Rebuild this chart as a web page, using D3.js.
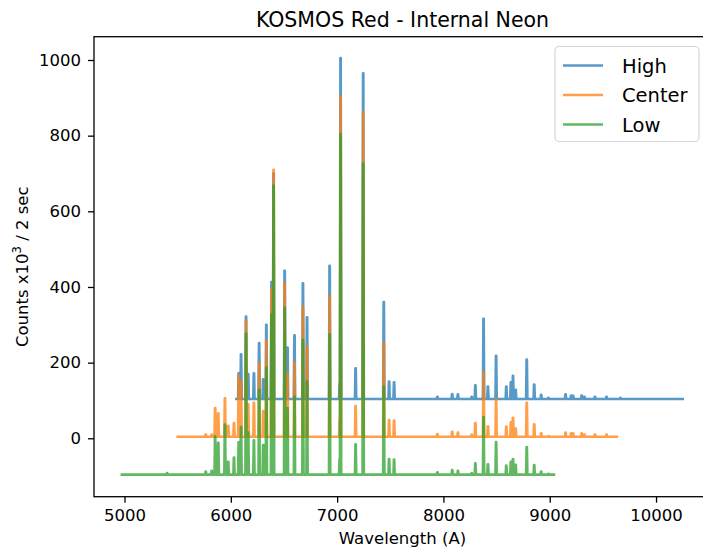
<!DOCTYPE html>
<html><head><meta charset="utf-8">
<script src="https://cdn.jsdelivr.net/npm/d3@7"></script>
<style>body{margin:0;background:#fff} svg{display:block;font-family:"DejaVu Sans",sans-serif}</style>
</head><body><svg id="c" width="703" height="552"></svg>
<script>
// Neon emission lines (Angstrom) and per-setting peak counts (x10^3 / 2 sec, incl. baseline)
const lineWavelengths = [5400.6, 5764.4, 5820.2, 5852.5, 5881.9, 5944.8, 5975.5, 6030.0, 6074.3, 6096.2,
  6143.1, 6163.6, 6217.3, 6266.5, 6304.8, 6334.4, 6383.0, 6402.2, 6506.5, 6532.9,
  6598.9, 6678.3, 6717.0, 6929.5, 7024.1, 7032.4, 7173.9, 7245.2, 7438.9, 7488.9,
  7535.8, 7943.2, 8082.5, 8136.4, 8266.1, 8300.3, 8377.6, 8418.4, 8495.4, 8591.3,
  8634.6, 8654.4, 8679.5, 8783.8, 8853.9, 8919.5, 8988.6, 9148.7, 9201.8, 9220.1,
  9300.9, 9326.5, 9425.4, 9534.2, 9665.4];
const highCounts = [0, 0, 0, 0, 0, 0, 0, 0, 72, 122,
  222, 70, 72, 152, 56, 200, 313, 600, 343, 140,
  172, 310, 220, 356, 45, 905, 85, 865, 260, 50,
  48, 10, 17, 16, 10, 40, 216, 37, 118, 37,
  48, 65, 28, 108, 42, 15, 7, 16, 13, 12,
  13, 10, 10, 10, 7];
const centerCounts = [0, 10, 10, 80, 66, 106, 33, 40, 166, 150,
  310, 90, 94, 198, 72, 258, 395, 710, 410, 170,
  200, 348, 242, 377, 48, 905, 85, 864, 254, 48,
  47, 11, 17, 15, 10, 40, 175, 32, 103, 31,
  42, 54, 26, 94, 37, 13, 6, 15, 13, 13,
  13, 10, 10, 10, 0];
const lowCounts = [8, 12, 14, 105, 88, 136, 38, 49, 90, 130,
  376, 115, 95, 228, 82, 287, 428, 768, 445, 180,
  210, 360, 250, 375, 45, 905, 84, 826, 236, 45,
  44, 10, 16, 14, 8, 34, 156, 31, 90, 28,
  38, 45, 30, 77, 29, 12, 6, 0, 0, 0,
  0, 0, 0, 0, 0];
const seriesNames = ["High", "Center", "Low"];
const seriesOffsets = [100, 0, -100];
const seriesStart = [6052, 5500, 4975];
const seriesEnd = [10251, 9632, 9040];
const baselineCounts = 4;
const xTicks = [5000, 6000, 7000, 8000, 9000, 10000];
const yTicks = [0, 200, 400, 600, 800, 1000];
const colors = ["#1f77b4", "#ff7f0e", "#2ca02c"];

const countsBySeries = [highCounts, centerCounts, lowCounts];
const L = 94, R = 711, T = 36.7, B = 496.7;
const x = d3.scaleLinear().domain([4713, 10517]).range([L, R]);
const y = d3.scaleLinear().domain([-154.4, 1061.6]).range([B, T]);

const svg = d3.select("#c");
svg.append("defs").append("clipPath").attr("id", "clip")
  .append("rect").attr("x", L).attr("y", T).attr("width", R - L).attr("height", B - T);

const lineGen = d3.line().x(d => x(d[0])).y(d => y(d[1]));
const hw = 6;
const g = svg.append("g").attr("clip-path", "url(#clip)");
seriesNames.forEach((name, i) => {
  const base = seriesOffsets[i] + baselineCounts;
  const pts = [[seriesStart[i], base]];
  lineWavelengths.forEach((w, j) => {
    const c = countsBySeries[i][j];
    if (!c || w < seriesStart[i] || w > seriesEnd[i]) return;
    const top = seriesOffsets[i] + c;
    pts.push([w - hw, base], [w - 1.5, top], [w + 1.5, top], [w + hw, base]);
  });
  pts.push([seriesEnd[i], base]);
  g.append("path").datum(pts).attr("d", lineGen)
    .attr("fill", "none").attr("stroke", colors[i]).attr("stroke-opacity", 0.75)
    .attr("stroke-width", 2.6).attr("stroke-linejoin", "round").attr("stroke-linecap", "square");
});

// axes
const fs = 16.5;
const xAxis = svg.append("g").attr("transform", `translate(0,${B})`)
  .call(d3.axisBottom(x).tickValues(xTicks).tickFormat(d3.format("d")).tickSizeOuter(0).tickSize(6).tickPadding(6.6));
const yAxis = svg.append("g").attr("transform", `translate(${L},0)`)
  .call(d3.axisLeft(y).tickValues(yTicks).tickFormat(d3.format("d")).tickSizeOuter(0).tickSize(6).tickPadding(7));
[xAxis, yAxis].forEach(a => {
  a.select(".domain").remove();
  a.selectAll(".tick line").attr("stroke", "#000").attr("stroke-width", 1.3);
  a.selectAll(".tick text").attr("font-size", fs).attr("fill", "#000").attr("font-family", "DejaVu Sans");
});
// spines
svg.append("rect").attr("x", L).attr("y", T).attr("width", R - L).attr("height", B - T)
  .attr("fill", "none").attr("stroke", "#000").attr("stroke-width", 1.3);

// labels
svg.append("text").attr("x", (L + R) / 2).attr("y", 27).attr("text-anchor", "middle")
  .attr("font-size", 20.5).attr("fill", "#000").text("KOSMOS Red - Internal Neon");
svg.append("text").attr("x", (L + R) / 2).attr("y", 544).attr("text-anchor", "middle")
  .attr("font-size", fs).attr("fill", "#000").text("Wavelength (A)");
const yl = svg.append("text").attr("transform", `translate(28,${(T + B) / 2}) rotate(-90)`)
  .attr("text-anchor", "middle").attr("font-size", fs).attr("fill", "#000");
yl.append("tspan").text("Counts x10");
yl.append("tspan").attr("font-size", fs * 0.7).attr("dy", -7).text("3");
yl.append("tspan").attr("dy", 7).text(" / 2 sec");

// legend
const lg = svg.append("g");
lg.append("rect").attr("x", 555).attr("y", 46.5).attr("width", 144).attr("height", 95)
  .attr("rx", 4).attr("fill", "#fff").attr("fill-opacity", 0.8).attr("stroke", "#d6d6d6").attr("stroke-width", 1.2);
seriesNames.forEach((name, i) => {
  const cy = 65.5 + i * 29.5;
  lg.append("line").attr("x1", 563).attr("x2", 603).attr("y1", cy).attr("y2", cy)
    .attr("stroke", colors[i]).attr("stroke-opacity", 0.75).attr("stroke-width", 2.6);
  lg.append("text").attr("x", 622).attr("y", cy + 7).attr("font-size", 19.5).attr("fill", "#000").text(name);
});
</script></body></html>
